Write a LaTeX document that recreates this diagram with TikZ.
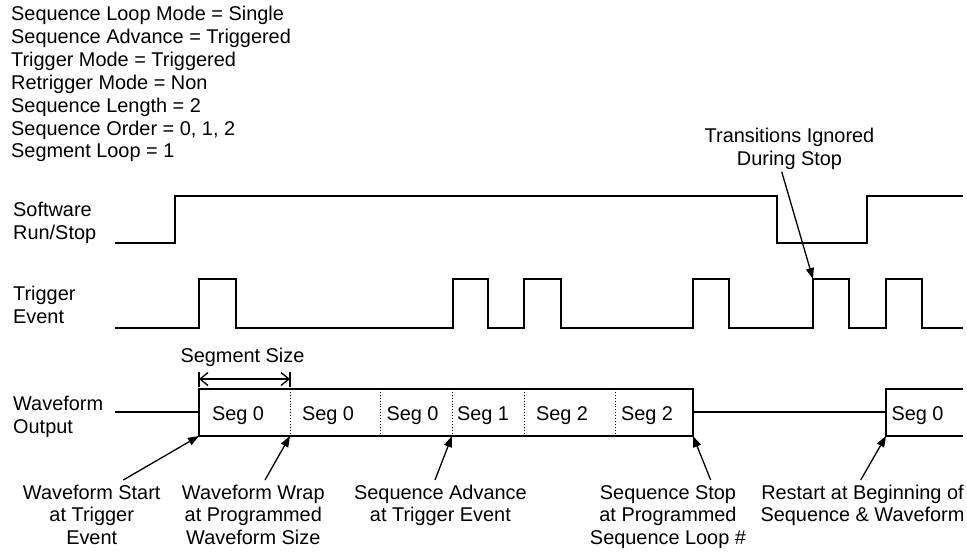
\documentclass[tikz,border=0pt]{standalone}
\usepackage{fontspec}
\setmainfont{Liberation Sans}
\usetikzlibrary{arrows.meta}
\begin{document}
\begin{tikzpicture}[x=1pt,y=-1pt,
  sig/.style={line width=1.5pt, line join=miter},
  lbl/.style={font=\fontsize{19.9}{22.9}\selectfont, inner sep=0pt},
  callout/.style={line width=1.3pt, -{Triangle[length=11pt,width=8pt]}},
  divider/.style={line width=0.9pt, dotted},
  dim/.style={line width=1.3pt, {Straight Barb[length=8pt,width=13pt]}-{Straight Barb[length=8pt,width=13pt]}},
  tick/.style={line width=1.3pt}]
\useasboundingbox (0,0) rectangle (967,552);

% header (base anchor = baseline of last line)
\node[lbl, anchor=base west, align=left] (hdr) at (11,157.9)
  {Sequence Loop Mode = Single\\ Sequence Advance = Triggered\\ Trigger Mode = Triggered\\ Retrigger Mode = Non\\ Sequence Length = 2\\ Sequence Order = 0, 1, 2\\ Segment Loop = 1};

% row labels
\node[lbl, anchor=base west, align=left] (lsw) at (13,239.5) {Software\\Run/Stop};
\node[lbl, anchor=base west, align=left] (ltr) at (13,323) {Trigger\\Event};
\node[lbl, anchor=base west, align=left] (lwf) at (13,433) {Waveform\\Output};

% software run/stop
\draw[sig] (115,243) -- (175,243) -- (175,196) -- (777,196) -- (777,243) -- (867,243) -- (867,196) -- (963,196);

% trigger event
\draw[sig] (115,328) -- (199,328) -- (199,279) -- (236,279) -- (236,328)
  -- (453,328) -- (453,279) -- (488,279) -- (488,328)
  -- (524,328) -- (524,279) -- (561,279) -- (561,328)
  -- (693,328) -- (693,279) -- (729,279) -- (729,328)
  -- (813,328) -- (813,279) coordinate (tstop) -- (849,279) -- (849,328)
  -- (886,328) -- (886,279) -- (922,279) -- (922,328) -- (963,328);

% waveform output
\coordinate (wbl) at (199,436);
\coordinate (wbr) at (693,436);
\coordinate (wrap) at (290,436);
\coordinate (adv) at (452,436);
\coordinate (rst) at (886,436);
\draw[sig] (115,412) -- (199,412);
\draw[sig] (199,389) rectangle (wbr);
\draw[sig] (693,412) -- (886,412);
\draw[sig] (963,389) -- (886,389) -- (rst) -- (963,436);
\foreach \x in {290,380,452,524,615} \draw[divider] (\x,389) -- (\x,436);

\node[lbl, anchor=base] (s1) at (238,420.5) {Seg 0};
\node[lbl, anchor=base] (s2) at (328,420.5) {Seg 0};
\node[lbl, anchor=base] (s3) at (412.5,420.5) {Seg 0};
\node[lbl, anchor=base] (s4) at (483,420.5) {Seg 1};
\node[lbl, anchor=base] (s5) at (562,420.5) {Seg 2};
\node[lbl, anchor=base] (s6) at (647,420.5) {Seg 2};
\node[lbl, anchor=base] (s7) at (917.5,420.5) {Seg 0};

% segment size
\node[lbl, anchor=base] (ssz) at (242.5,362) {Segment Size};
\coordinate (ssL) at (199,379);
\coordinate (ssR) at (290,379);
\draw[dim] (ssL) -- (ssR);
\draw[tick] ([yshift=-7.5pt]ssL) -- ([yshift=7.5pt]ssL);
\draw[tick] ([yshift=-7.5pt]ssR) -- ([yshift=7.5pt]ssR);

% transitions ignored
\node[lbl, anchor=base, align=center] (tig) at (789.5,165) {Transitions Ignored\\During Stop};
\coordinate (tigs) at (781.7,171.7);
\draw[callout] (tigs) -- (tstop);

% bottom labels
\node[lbl, anchor=base, align=center] (la) at (91.7,544.8) {Waveform Start\\at Trigger\\Event};
\node[lbl, anchor=base, align=center] (lb) at (253.3,544.8) {Waveform Wrap\\at Programmed\\Waveform Size};
\node[lbl, anchor=base, align=center] (lc) at (440.4,521.9) {Sequence Advance\\at Trigger Event};
\node[lbl, anchor=base, align=center] (ld) at (668,544.8) {Sequence Stop\\at Programmed\\Sequence Loop \#};
\node[lbl, anchor=base, align=center] (le) at (862.5,521.9) {Restart at Beginning of\\Sequence \& Waveform};

\coordinate (ca) at (123.3,480);
\coordinate (cb) at (265,480);
\coordinate (cc) at (435,480);
\coordinate (cd) at (710.7,480);
\coordinate (ce) at (860.7,480);
\draw[callout] (ca) -- (wbl);
\draw[callout] (cb) -- (wrap);
\draw[callout] (cc) -- (adv);
\draw[callout] (cd) -- (wbr);
\draw[callout] (ce) -- (rst);
\end{tikzpicture}
\end{document}
